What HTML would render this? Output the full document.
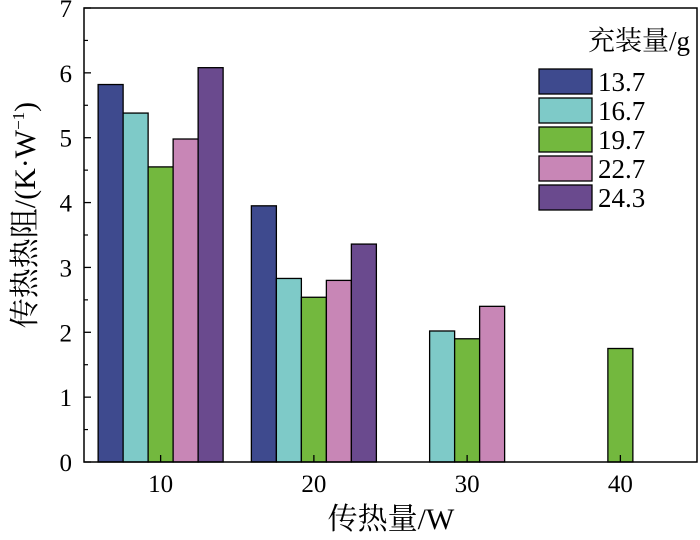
<!DOCTYPE html>
<html><head><meta charset="utf-8"><style>
html,body{margin:0;padding:0;background:#fff;}
svg text{font-family:"Liberation Serif","Noto Serif CJK SC",serif;fill:#000;}
</style></head><body>
<svg id="chart" width="700" height="535" viewBox="0 0 700 535"></svg>
<script>
const categories = [10, 20, 30, 40];
const seriesNames = ["13.7", "16.7", "19.7", "22.7", "24.3"];
const s137 = [5.82, 3.95, null, null];
const s167 = [5.38, 2.83, 2.02, null];
const s197 = [4.55, 2.54, 1.90, 1.75];
const s227 = [4.98, 2.80, 2.40, null];
const s243 = [6.08, 3.36, null, null];
const yTicks = [0, 1, 2, 3, 4, 5, 6, 7];
const xTicks = [10, 20, 30, 40];
const colors = ["#3e4a8e", "#7ecac8", "#73b83e", "#c886b6", "#6a4a8e"];
const series = [s137, s167, s197, s227, s243];

const NS = "http://www.w3.org/2000/svg";
const svg = document.getElementById("chart");
const L = 84, R = 697, T = 8, B = 462;
const xMin = 5, xMax = 45, yMax = 7;
function xs(v){ return L + (v - xMin) / (xMax - xMin) * (R - L); }
function ys(v){ return B - v / yMax * (B - T); }
function mk(tag, attrs, parent){
  const e = document.createElementNS(NS, tag);
  for (const k in attrs) e.setAttribute(k, attrs[k]);
  (parent || svg).appendChild(e);
  return e;
}
const barW = 25;
series.forEach((arr, si) => {
  arr.forEach((v, ci) => {
    if (v === null) return;
    const cx = xs(categories[ci]) + (si - 2) * barW;
    const r = mk("rect", {x: cx - barW/2, y: ys(v), width: barW, height: ys(0) - ys(v), fill: colors[si], stroke: "#000", "stroke-width": 1.3});
    
    
  });
});
const frame = mk("rect", {x: L, y: T, width: R - L, height: B - T, fill: "none", stroke: "#000", "stroke-width": 1.5});


yTicks.forEach(t => {
  const y = ys(t);
  const tk = mk("line", {x1: L, x2: L + 7, y1: y, y2: y, stroke: "#000", "stroke-width": 1.3});
  
  
  if (t < yMax) {
    const m = mk("line", {x1: L, x2: L + 4, y1: ys(t + 0.5), y2: ys(t + 0.5), stroke: "#000", "stroke-width": 1.2});
    
    
  }
  const tx = mk("text", {x: L - 12, y: y + 9, "font-size": 25, "text-anchor": "end"});
  tx.textContent = t;
  
  
});
xTicks.forEach(t => {
  const x = xs(t);
  const tk = mk("line", {x1: x, x2: x, y1: B, y2: B - 7, stroke: "#000", "stroke-width": 1.3});
  
  
  const tx = mk("text", {x: x, y: B + 30, "font-size": 25, "text-anchor": "middle"});
  tx.textContent = t;
  
  
});
const xt = mk("text", {x: 391, y: 529, "font-size": 30, "text-anchor": "middle"});
xt.textContent = "传热量/W";


const yt = mk("text", {x: 0, y: 0, "font-size": 30, "text-anchor": "middle", transform: "translate(35,215) rotate(-90)"});
yt.innerHTML = '传热热阻/(K·W<tspan font-size="17" dy="-11">−1</tspan><tspan dy="11">)</tspan>';


const lt = mk("text", {x: 690, y: 50, "font-size": 27, "text-anchor": "end"});
lt.textContent = "充装量/g";


seriesNames.forEach((n, i) => {
  const y = 69 + i * 29;
  const g = mk("g", {});
  
  
  mk("rect", {x: 539, y: y, width: 53, height: 25, fill: colors[i], stroke: "#000", "stroke-width": 1.3}, g);
  const t = mk("text", {x: 598, y: y + 22, "font-size": 27}, g);
  t.textContent = n;
});
</script>
</body></html>
